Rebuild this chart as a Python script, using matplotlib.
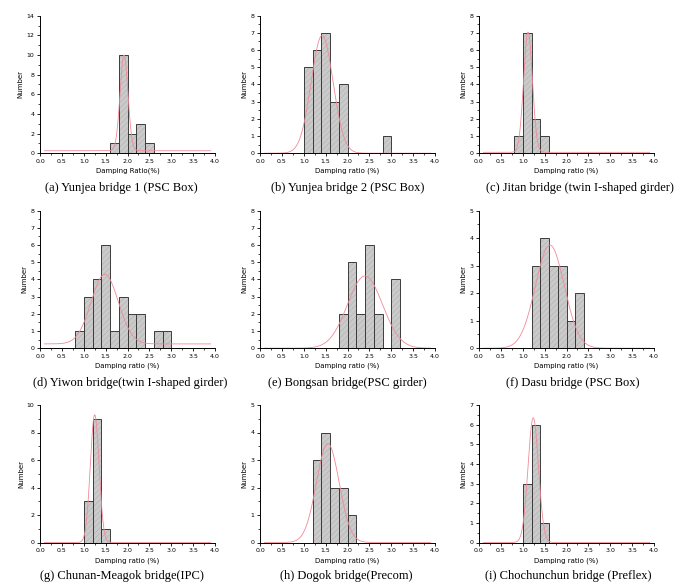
import matplotlib
matplotlib.use("Agg")
import matplotlib.pyplot as plt
import numpy as np
from matplotlib.ticker import MultipleLocator, AutoMinorLocator, FormatStrFormatter

plt.rcParams["hatch.linewidth"] = 0.3

# ── Data ──────────────────────────────────────────────────────────────────────
# histogram bins (left edge, bin width 0.2) and counts per bridge
a_left = [1.6, 1.8, 2.0, 2.2, 2.4]
a_count = [1, 10, 2, 3, 1]
b_left = [1.0, 1.2, 1.4, 1.6, 1.8, 2.8]
b_count = [5, 6, 7, 3, 4, 1]
c_left = [0.8, 1.0, 1.2, 1.4]
c_count = [1, 7, 2, 1]
d_left = [0.8, 1.0, 1.2, 1.4, 1.6, 1.8, 2.0, 2.2, 2.6, 2.8]
d_count = [1, 3, 4, 6, 1, 3, 2, 2, 1, 1]
e_left = [1.8, 2.0, 2.2, 2.4, 2.6, 3.0]
e_count = [2, 5, 2, 6, 2, 4]
f_left = [1.2, 1.4, 1.6, 1.8, 2.0, 2.2]
f_count = [3, 4, 3, 3, 1, 2]
g_left = [1.0, 1.2, 1.4]
g_count = [3, 9, 1]
h_left = [1.2, 1.4, 1.6, 1.8, 2.0]
h_count = [3, 4, 2, 2, 1]
i_left = [1.0, 1.2, 1.4]
i_count = [3, 6, 1]

# Gaussian fit: baseline, centre, sigma, height above baseline
fit_base = [0.25, 0.0, 0.05, 0.25, 0.0, 0.0, 0.0, 0.0, 0.0]
fit_center = [1.92, 1.42, 1.12, 1.48, 2.40, 1.62, 1.25, 1.55, 1.24]
fit_sigma = [0.09, 0.25, 0.10, 0.31, 0.40, 0.33, 0.10, 0.26, 0.12]
fit_height = [9.75, 6.85, 7.0, 4.05, 4.2, 3.75, 9.3, 3.6, 6.35]

y_max = [14, 8, 8, 8, 8, 5, 10, 5, 7]
y_step = [2, 1, 1, 1, 1, 1, 2, 1, 1]

x_labels = ["Damping Ratio(%)"] + ["Damping ratio (%)"] * 8
captions = [
    "(a) Yunjea bridge 1 (PSC Box)",
    "(b) Yunjea bridge 2 (PSC Box)",
    "(c) Jitan bridge (twin I-shaped girder)",
    "(d) Yiwon bridge(twin I-shaped girder)",
    "(e) Bongsan bridge(PSC girder)",
    "(f) Dasu bridge (PSC Box)",
    "(g) Chunan-Meagok bridge(IPC)",
    "(h) Dogok bridge(Precom)",
    "(i) Chochunchun bridge (Preflex)",
]

lefts = [a_left, b_left, c_left, d_left, e_left, f_left, g_left, h_left, i_left]
counts = [a_count, b_count, c_count, d_count, e_count, f_count, g_count, h_count, i_count]

BIN_W = 0.2
W, H = 676, 586


# ── Panel builder ─────────────────────────────────────────────────────────────

def draw_panel(ax, k):
    # fill + faint hatch, then a darker outline on top
    ax.bar(lefts[k], counts[k], width=BIN_W, align="edge", facecolor="#cacaca",
           edgecolor="#a8a8a8", linewidth=0, hatch="//////", zorder=1)
    ax.bar(lefts[k], counts[k], width=BIN_W, align="edge", fill=False,
           edgecolor="#3c3c3c", linewidth=0.7, zorder=1.5)

    xs = np.linspace(0.1, 3.9, 300)
    ys = fit_base[k] + fit_height[k] * np.exp(-(xs - fit_center[k]) ** 2 / (2 * fit_sigma[k] ** 2))
    ax.plot(xs, ys, color="#f08a98", linewidth=0.6, zorder=2)

    ax.set_xlim(0, 4)
    ax.set_ylim(0, y_max[k])
    ax.xaxis.set_major_locator(MultipleLocator(0.5))
    ax.xaxis.set_minor_locator(AutoMinorLocator(2))
    ax.yaxis.set_major_locator(MultipleLocator(y_step[k]))
    ax.yaxis.set_minor_locator(AutoMinorLocator(2))
    ax.xaxis.set_major_formatter(FormatStrFormatter("%.1f"))
    ax.tick_params(which="major", direction="out", length=2.5, width=0.6, labelsize=4.5, pad=1.5)
    ax.tick_params(which="minor", direction="out", length=1.5, width=0.5)
    for side in ("top", "right"):
        ax.spines[side].set_visible(False)
    for side in ("left", "bottom"):
        ax.spines[side].set_linewidth(0.7)
        ax.spines[side].set_zorder(3)
    ax.set_xlabel(x_labels[k], fontsize=5, labelpad=3)
    ax.set_ylabel("Number", fontsize=5, labelpad=2)


# ── Figure ────────────────────────────────────────────────────────────────────

fig = plt.figure(figsize=(W / 100, H / 100), dpi=100)

col_left = [40, 260, 479]
row_top = [15.7, 210.7, 405]
ax_w, ax_h = 175, 137.5
caption_y = [188, 383, 576]
caption_x = [121, 348, 580, 130, 347, 573, 122, 346, 568]

for k in range(9):
    r, c = divmod(k, 3)
    l = col_left[c]
    t = row_top[r]
    ax = fig.add_axes([l / W, 1 - (t + ax_h) / H, ax_w / W, ax_h / H])
    draw_panel(ax, k)
    fig.text(caption_x[k] / W, 1 - caption_y[r] / H, captions[k],
             ha="center", va="center", fontsize=9, family="Liberation Serif")

fig.savefig("out.png", dpi=100)
